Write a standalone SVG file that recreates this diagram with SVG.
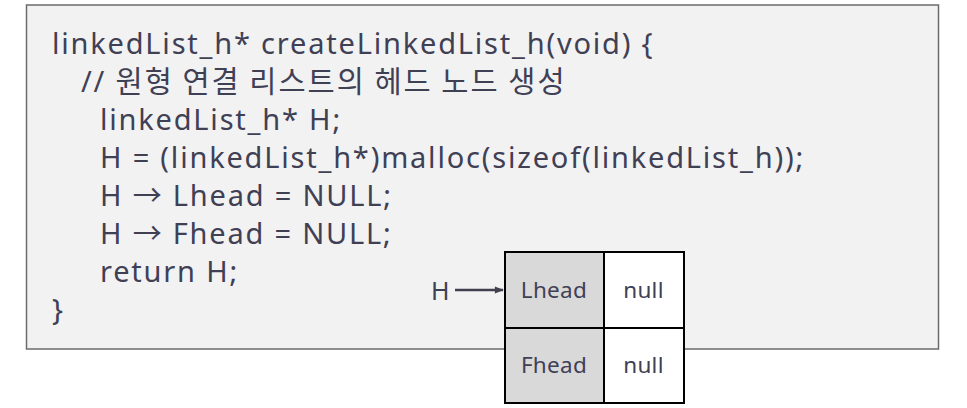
<svg xmlns="http://www.w3.org/2000/svg" width="967" height="408" viewBox="0 0 967 408">
<defs>
<style>
.code{font-family:"Noto Sans","Noto Sans CJK KR",sans-serif;font-size:29px;letter-spacing:1.8px;fill:#404055;}
.kr{font-family:"Noto Sans CJK KR","Noto Sans",sans-serif;font-size:29.5px;letter-spacing:2px;}
.cell{font-family:"Noto Sans","Noto Sans CJK KR",sans-serif;font-size:22.5px;letter-spacing:0.3px;fill:#404055;text-anchor:middle;}
.key{fill:#d9d9d9;stroke:#000;stroke-width:2;}
.val{fill:#ffffff;stroke:#000;stroke-width:2;}
</style>
<marker id="arr" viewBox="0 0 10 10" refX="9" refY="5" markerWidth="10" markerHeight="9" orient="auto" markerUnits="userSpaceOnUse">
<path d="M0,1 L10,5 L0,9 Z" fill="#404050"/>
</marker>
</defs>
<rect width="967" height="408" fill="#ffffff"/>
<g id="codebox">
<rect x="26.5" y="5" width="912" height="344" fill="#f2f2f2" stroke="#6b6b6b" stroke-width="1.5"/>
<text class="code" x="52" y="54">linkedList_h* createLinkedList_h(void) {</text>
<text class="code" x="81" y="92">// <tspan class="kr">원형 연결 리스트의 헤드 노드 생성</tspan></text>
<text class="code" x="100" y="130">linkedList_h* H;</text>
<text class="code" x="100" y="168">H = (linkedList_h*)malloc(sizeof(linkedList_h));</text>
<text class="code" x="100" y="206">H → Lhead = NULL;</text>
<text class="code" x="100" y="244">H → Fhead = NULL;</text>
<text class="code" x="100" y="282">return H;</text>
<text class="code" x="52" y="320">}</text>
</g>
<g id="headnode">
<rect class="key" x="505" y="252" width="99" height="76"/>
<rect class="val" x="604" y="252" width="80" height="76"/>
<rect class="key" x="505" y="328" width="99" height="75"/>
<rect class="val" x="604" y="328" width="80" height="75"/>
<text class="cell" x="554" y="298">Lhead</text>
<text class="cell" x="643.5" y="298">null</text>
<text class="cell" x="554" y="373">Fhead</text>
<text class="cell" x="643.5" y="373">null</text>
</g>
<g id="pointer">
<text class="cell" x="440.5" y="300" style="font-size:25px">H</text>
</g>
<g id="connectors">
<line x1="455" y1="290" x2="503" y2="290" stroke="#404050" stroke-width="2.5" marker-end="url(#arr)"/>
</g>
</svg>
